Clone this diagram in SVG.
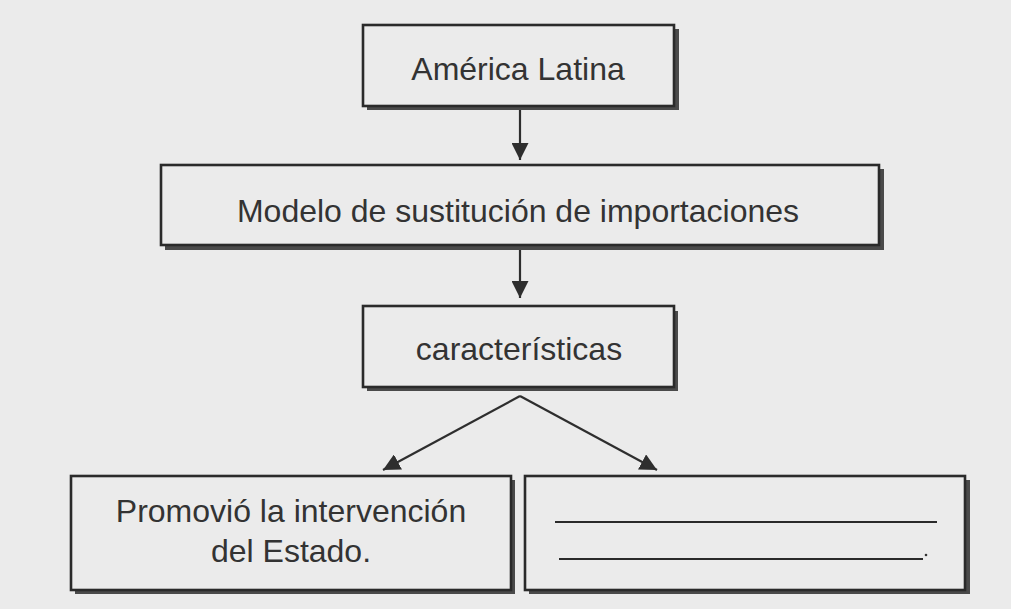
<svg xmlns="http://www.w3.org/2000/svg" width="1011" height="609" viewBox="0 0 1011 609">
<defs>
<style>
.shadow{fill:#4a4a4a;}
.box{fill:#ebebeb;stroke:#2a2a2a;stroke-width:2.6;}
.lbl{font-family:"Liberation Sans",Arial,sans-serif;font-size:32px;fill:#333333;text-anchor:middle;}
.conn{stroke:#2e2e2e;stroke-width:2.2;fill:none;}
.blank{stroke:#2a2a2a;stroke-width:2.2;}
</style>
<marker id="ah" viewBox="0 0 10 10" refX="10" refY="5" markerWidth="17" markerHeight="17" markerUnits="userSpaceOnUse" orient="auto">
<path d="M0,0 L10,5 L0,10 Z" fill="#2e2e2e"/>
</marker>
</defs>
<rect x="0" y="0" width="1011" height="609" fill="#ebebeb"/>
<g id="connectors">
<line class="conn" x1="520" y1="110" x2="520" y2="160" marker-end="url(#ah)"/>
<line class="conn" x1="520" y1="250" x2="520" y2="298" marker-end="url(#ah)"/>
<line class="conn" x1="520" y1="396" x2="383" y2="470" marker-end="url(#ah)"/>
<line class="conn" x1="520" y1="396" x2="657" y2="470" marker-end="url(#ah)"/>
</g>
<g id="node-america">
<rect class="shadow" x="367" y="29" width="312" height="81"/>
<rect class="box" x="363" y="25" width="311" height="81"/>
<text class="lbl" x="518" y="80">América Latina</text>
</g>
<g id="node-modelo">
<rect class="shadow" x="165" y="169" width="719" height="81"/>
<rect class="box" x="161" y="165" width="718" height="80"/>
<text class="lbl" x="518" y="222">Modelo de sustitución de importaciones</text>
</g>
<g id="node-caracteristicas">
<rect class="shadow" x="367" y="311" width="311" height="80"/>
<rect class="box" x="363" y="306" width="311" height="81"/>
<text class="lbl" x="519" y="360">características</text>
</g>
<g id="node-promovio">
<rect class="shadow" x="75" y="480" width="440" height="114"/>
<rect class="box" x="71" y="476" width="440" height="114"/>
<text class="lbl" x="291" y="522">Promovió la intervención</text>
<text class="lbl" x="291" y="562">del Estado.</text>
</g>
<g id="node-blank">
<rect class="shadow" x="529" y="480" width="441" height="114"/>
<rect class="box" x="525" y="476" width="440" height="114"/>
<line class="blank" x1="555" y1="522" x2="937" y2="522"/>
<line class="blank" x1="559" y1="559" x2="923" y2="559"/>
<circle cx="926" cy="555" r="1.3" fill="#333"/>
</g>
</svg>
